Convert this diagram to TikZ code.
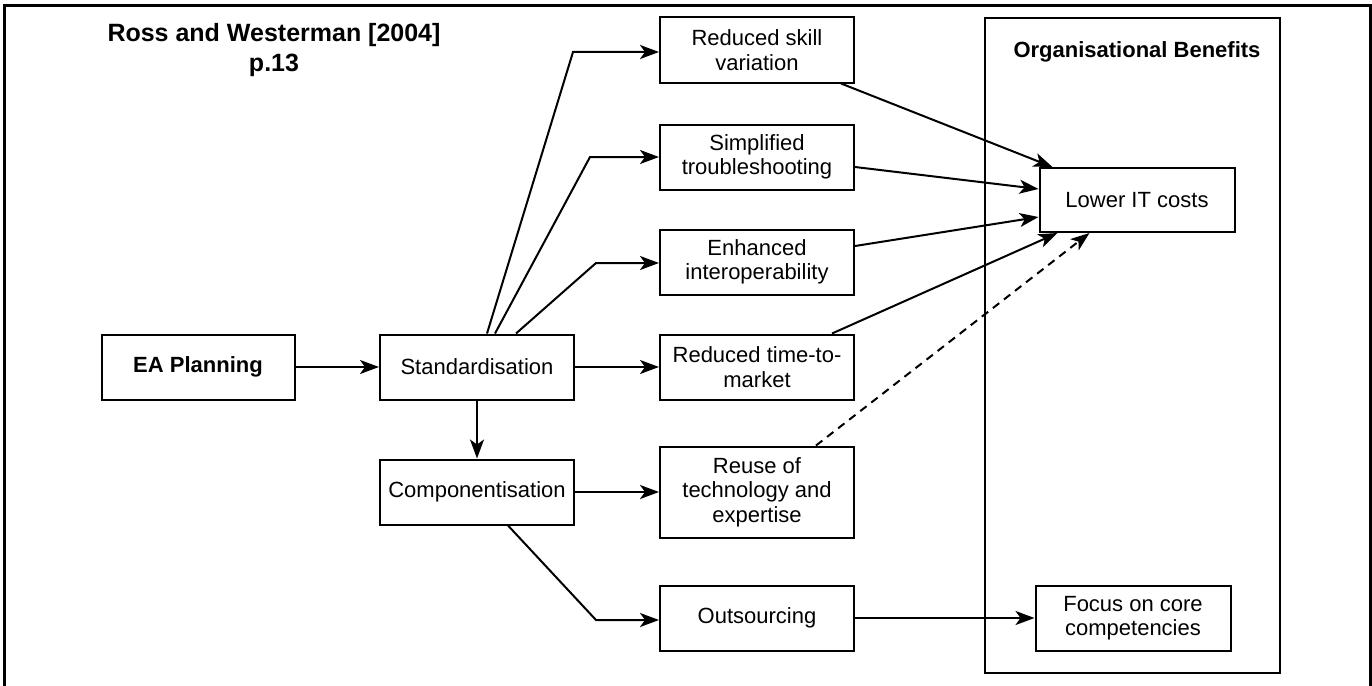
\documentclass[tikz,border=0pt]{standalone}
\usepackage{fontspec}
\setmainfont{Liberation Sans}
\usetikzlibrary{arrows.meta,calc}
\begin{document}
\begin{tikzpicture}[x=1pt,y=-1pt,
  box/.style={draw,line width=2pt,minimum height=65pt,align=center,inner sep=2pt,
    font=\fontsize{22}{24.5}\selectfont},
  colbox/.style={box,minimum width=194pt},
  arr/.style={line width=2pt,-{Stealth[length=19pt,width=14pt,inset=5pt]}},
  ttl/.style={font=\bfseries\fontsize{22}{24.5}\selectfont,align=center}]
\useasboundingbox (0,0) rectangle (1372,685);
\draw[line width=3pt] (4,700) -- (4,6) -- (1370,6) -- (1370,700);

\node[ttl,font=\bfseries\fontsize{25}{30}\selectfont] (title) at (274,50) {Ross and Westerman [2004]\\p.13};

\node[box,minimum width=193pt,font=\bfseries\fontsize{22}{24.5}\selectfont] (ea) at (198,367) {EA Planning};
\node[colbox] (std) at (477,367) {Standardisation};
\node[colbox] (comp) at (477,492) {Componentisation};

\node[colbox] (rsv) at (757,50) {Reduced skill\\variation};
\node[colbox] (st) at (757,157) {Simplified\\troubleshooting};
\node[colbox] (ei) at (757,262) {Enhanced\\interoperability};
\node[colbox] (rtm) at (757,367) {Reduced time-to-\\market};
\node[colbox,minimum height=91pt] (reuse) at (757,492) {Reuse of\\technology and\\expertise};
\node[colbox] (out) at (757,618) {Outsourcing};

\node[draw,line width=2pt,minimum width=295pt,minimum height=655pt,inner sep=0pt] (ob) at (1132.5,345.5) {};
\node[ttl] (obt) at (1137,52) {Organisational Benefits};
\node[box,minimum width=195pt,minimum height=64pt] (lit) at (1137,200) {Lower IT costs};
\node[box,minimum width=195pt] (focus) at (1133,618) {Focus on core\\competencies};

\coordinate (b1) at (573,52);
\coordinate (b2) at (590,157);
\coordinate (b3) at (596,263);
\coordinate (b4) at (596,620);

\draw[arr] (ea) -- (std);
\draw[arr] (std) -- (comp);
\draw[arr] ([xshift=10pt]std.north) -- (b1) -- (b1 -| rsv.west);
\draw[arr] ([xshift=18pt]std.north) -- (b2) -- (b2 -| st.west);
\draw[arr] ([xshift=39pt]std.north) -- (b3) -- (b3 -| ei.west);
\draw[arr] (std) -- (rtm);
\draw[arr] (comp) -- (reuse);
\draw[arr] ([xshift=31pt]comp.south) -- (b4) -- (b4 -| out.west);

\draw[arr] ([xshift=84pt]rsv.south) -- ([xshift=14pt]lit.north west);
\draw[arr] ([yshift=-10pt]st.east) -- ([yshift=11pt]lit.west);
\draw[arr] ([yshift=16pt]ei.east) -- ([yshift=-17pt]lit.west);
\draw[arr] ([xshift=75pt]rtm.north) -- ([xshift=19pt]lit.south west);
\draw[arr,dash pattern=on 8pt off 6pt] ([xshift=59pt]reuse.north) -- ([xshift=51pt]lit.south west);
\draw[arr] (out) -- (focus);
\end{tikzpicture}
\end{document}
